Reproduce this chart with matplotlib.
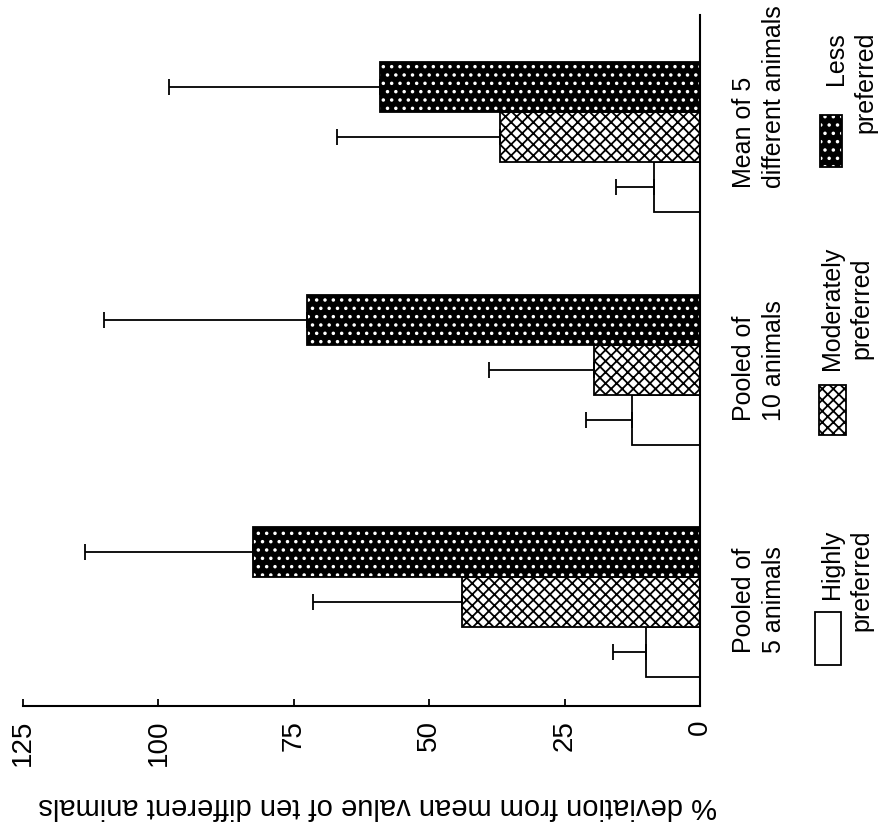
import numpy as np
import matplotlib
matplotlib.use('Agg')
import matplotlib.pyplot as plt
from matplotlib.patches import Rectangle

# Data (% deviation)
groups = ["Pooled of\n5 animals", "Pooled of\n10 animals", "Mean of 5\ndifferent animals"]
highly = [10.0, 12.5, 8.5]
highly_top = [16.0, 21.0, 15.5]
moderately = [44.0, 19.5, 37.0]
moderately_top = [71.5, 39.0, 67.0]
less = [82.5, 72.5, 59.0]
less_top = [113.5, 110.0, 98.0]
ticks = [0, 25, 50, 75, 100, 125]

plt.rcParams["font.family"] = ["Liberation Sans", "DejaVu Sans"]
plt.rcParams["hatch.linewidth"] = 1.3

W, H = 885, 835
fig = plt.figure(figsize=(W / 100, H / 100), dpi=100)

def fx(x):
    return x / W

def fy(y):
    return 1 - y / H

# chart is drawn rotated: value axis horizontal (reversed), categories bottom -> top
ax = fig.add_axes([fx(23), fy(706), fx(700) - fx(23), fy(15) - fy(706)])

pos = np.arange(len(groups))
h = 0.215
lw = 1.3

# Highly preferred: white
ax.barh(pos - h, highly, height=h, color='white', edgecolor='k', linewidth=lw)
# Moderately preferred: cross hatch
ax.barh(pos, moderately, height=h, color='white', edgecolor='k', linewidth=lw, hatch='xxx')
# Less preferred: dark stipple
ax.barh(pos + h, less, height=h, color='black', edgecolor='white', linewidth=0, hatch='..')
ax.barh(pos + h, less, height=h, fill=False, edgecolor='k', linewidth=lw)

for vals, tops, off in [(highly, highly_top, -h), (moderately, moderately_top, 0),
                        (less, less_top, h)]:
    vals = np.array(vals)
    err = np.array(tops) - vals
    ax.errorbar(vals, pos + off, xerr=[np.zeros_like(err), err], fmt='none',
                ecolor='k', elinewidth=1.3, capsize=6, capthick=1.3)

ax.set_xlim(125, 0)
ax.set_ylim(-0.447, 2.525)
ax.set_xticks(ticks)
ax.set_xticklabels([str(t) for t in ticks], rotation=90, fontsize=20)
ax.tick_params(axis='x', direction='in', length=5, width=1.3, pad=10)
ax.set_yticks([])
for s in ['left', 'top']:
    ax.spines[s].set_visible(False)
for s in ['bottom', 'right']:
    ax.spines[s].set_linewidth(1.5)

# category labels on the right
for p, g in zip(pos, groups):
    ax.text(1.087, p - 0.22, g, transform=ax.get_yaxis_transform(), rotation=90,
            ha='center', va='bottom', multialignment='left', fontsize=18,
            linespacing=1.3)

# value axis title (upside down)
fig.text(fx(378), fy(806), "% deviation from mean value of ten different animals",
         rotation=180, ha='center', va='center', fontsize=21)

# legend drawn by hand
fig.add_artist(Rectangle((fx(815), fy(665)), fx(841) - fx(815), fy(612) - fy(665),
                         transform=fig.transFigure, facecolor='white', edgecolor='k', linewidth=lw))
fig.add_artist(Rectangle((fx(819), fy(435)), fx(846) - fx(819), fy(385) - fy(435),
                         transform=fig.transFigure, facecolor='white', edgecolor='k',
                         linewidth=lw, hatch='xxx'))
fig.add_artist(Rectangle((fx(820), fy(167)), fx(842) - fx(820), fy(115) - fy(167),
                         transform=fig.transFigure, facecolor='black', edgecolor='white',
                         linewidth=0, hatch='..'))
fig.add_artist(Rectangle((fx(820), fy(167)), fx(842) - fx(820), fy(115) - fy(167),
                         transform=fig.transFigure, fill=False, edgecolor='k', linewidth=lw))

fig.text(fx(847), fy(530), "Highly\npreferred", rotation=90, ha='center', va='top',
         multialignment='right', fontsize=18, linespacing=1.3)
fig.text(fx(847), fy(308), "Moderately\npreferred", rotation=90, ha='center', va='center',
         multialignment='center', fontsize=18, linespacing=1.3)
fig.text(fx(851), fy(32), "Less\npreferred", rotation=90, ha='center', va='top',
         multialignment='right', fontsize=18, linespacing=1.3)

fig.savefig("out.png", dpi=100)
